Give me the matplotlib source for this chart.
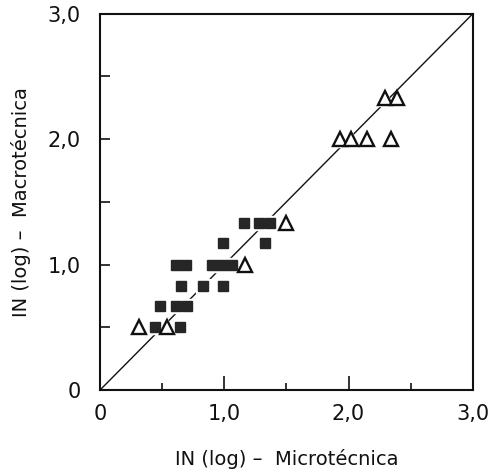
import matplotlib
matplotlib.use('Agg')
import matplotlib.pyplot as plt

# filled squares
sq_x = [0.44, 0.64, 0.48, 0.61, 0.70, 0.65, 0.83, 0.99, 0.61, 0.69, 0.90, 0.98, 1.06,
        0.99, 1.33, 1.16, 1.28, 1.37]
sq_y = [0.50, 0.50, 0.67, 0.67, 0.67, 0.83, 0.83, 0.83, 1.00, 1.00, 1.00, 1.00, 1.00,
        1.17, 1.17, 1.33, 1.33, 1.33]

# open triangles
tr_x = [0.31, 0.54, 1.17, 1.50, 1.93, 2.02, 2.15, 2.34, 2.29, 2.39]
tr_y = [0.50, 0.50, 1.00, 1.33, 2.00, 2.00, 2.00, 2.00, 2.33, 2.33]

ticks = [0, 1, 2, 3]
tick_labels = ['0', '1,0', '2,0', '3,0']
ink = '#111111'

fig = plt.figure(figsize=(4.93, 4.75), dpi=100)
ax = fig.add_axes([0.203, 0.179, 0.756, 0.792])

# identity line
ax.plot([0, 3], [0, 3], color=ink, lw=1.0, zorder=1)

# white halos to break the line around the marks
ax.plot(sq_x, sq_y, 's', ms=10.5, color='white', zorder=2)
ax.plot(tr_x, tr_y, '^', ms=12, color='white', zorder=2)

ax.plot(sq_x, sq_y, 's', ms=7.5, color='#262626', mec='#262626', zorder=3)
ax.plot(tr_x, tr_y, '^', ms=10, mfc='white', mec=ink, mew=1.7, zorder=3)

ax.set_xlim(0, 3)
ax.set_ylim(0, 3)
ax.set_xticks(ticks)
ax.set_xticklabels(tick_labels)
ax.set_yticks(ticks)
ax.set_yticklabels(tick_labels)
ax.set_xticks([0.5, 1.5, 2.5], minor=True)
ax.set_yticks([0.5, 1.5, 2.5], minor=True)
ax.tick_params(which='major', direction='in', width=1.2, labelsize=15,
               colors=ink)
ax.tick_params(which='minor', direction='in', width=1.2, colors=ink)
ax.tick_params(axis='x', which='major', length=10, pad=10)
ax.tick_params(axis='x', which='minor', length=5)
ax.tick_params(axis='y', which='major', length=7, pad=14)
ax.tick_params(axis='y', which='minor', length=7)

for s in ax.spines.values():
    s.set_linewidth(1.5)
    s.set_color(ink)

ax.set_xlabel('IN (log) \u2013  Microtécnica', fontsize=14, color=ink, labelpad=18)
ax.set_ylabel('IN (log) \u2013  Macrotécnica', fontsize=14, color=ink, labelpad=12)

fig.savefig('out.png', dpi=100)
